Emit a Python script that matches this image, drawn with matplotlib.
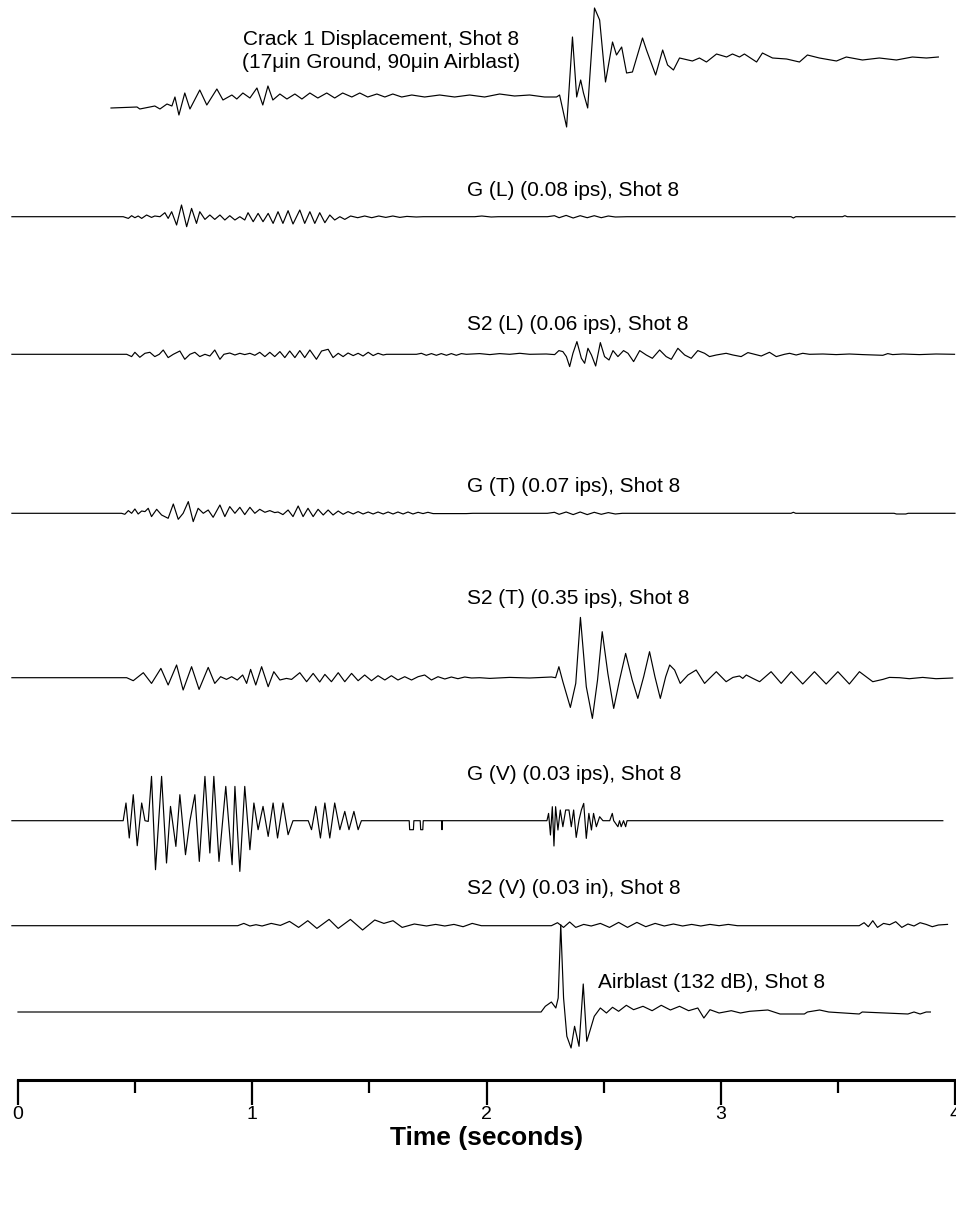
import matplotlib
matplotlib.use("Agg")
import matplotlib.pyplot as plt
from matplotlib.ticker import MultipleLocator

plt.rcParams["font.family"] = ["Liberation Sans", "DejaVu Sans"]

# ---- waveform data: time [s] and amplitude (plot units, up positive) ----
CRACK_T = [0.397, 0.508, 0.520, 0.563, 0.584, 0.606, 0.636, 0.657, 0.670, 0.687,
           0.712, 0.734, 0.776, 0.806, 0.849, 0.875, 0.913, 0.934, 0.960, 0.990,
           1.020, 1.045, 1.067, 1.088, 1.118, 1.148, 1.182, 1.212, 1.246, 1.280,
           1.318, 1.352, 1.386, 1.425, 1.459, 1.493, 1.532, 1.566, 1.600, 1.638,
           1.681, 1.736, 1.800, 1.864, 1.928, 1.992, 2.056, 2.120, 2.184, 2.248,
           2.299, 2.312, 2.342, 2.367, 2.385, 2.402, 2.414, 2.432, 2.461, 2.483,
           2.508, 2.538, 2.555, 2.577, 2.598, 2.623, 2.666, 2.683, 2.722, 2.752,
           2.773, 2.798, 2.824, 2.879, 2.909, 2.939, 2.982, 3.025, 3.050, 3.080,
           3.101, 3.153, 3.178, 3.221, 3.281, 3.336, 3.370, 3.421, 3.494, 3.536,
           3.605, 3.677, 3.750, 3.818, 3.878, 3.929]
CRACK_A = [0, 1, -1, 1, 2, -1, 4, 2, 11, -7,
           15, -1, 18, 3, 19, 8, 13, 9, 15, 10,
           20, 3, 22, 8, 14, 9, 14, 9, 15, 10,
           15, 10, 15, 11, 15, 11, 14, 11, 14, 11,
           13, 11, 13, 11, 13, 11, 14, 12, 13, 11,
           11, 13, -19, 71, 11, 28, 15, 0, 100, 88,
           26, 66, 53, 61, 35, 36, 70, 58, 33, 58,
           43, 38, 50, 47, 50, 46, 54, 51, 54, 51,
           54, 46, 55, 50, 49, 46, 53, 50, 47, 51,
           48, 50, 48, 51, 50, 51]

GL_T = [-0.026, 0.449, 0.471, 0.485, 0.499, 0.513, 0.528, 0.549, 0.570, 0.584,
        0.606, 0.627, 0.641, 0.656, 0.677, 0.698, 0.720, 0.741, 0.762, 0.776,
        0.798, 0.819, 0.840, 0.862, 0.883, 0.904, 0.926, 0.947, 0.968, 0.982,
        1.004, 1.025, 1.046, 1.068, 1.089, 1.110, 1.131, 1.153, 1.174, 1.203,
        1.224, 1.246, 1.267, 1.288, 1.310, 1.331, 1.352, 1.374, 1.395, 1.42,
        1.45, 1.48, 1.51, 1.54, 1.57, 1.60, 1.63, 1.66, 1.70, 1.73,
        1.95, 1.98, 2.02, 2.05, 2.26, 2.29, 2.31, 2.34, 2.37, 2.40,
        2.43, 2.46, 2.49, 2.52, 2.55, 2.60, 3.30, 3.31, 3.32, 3.52,
        3.53, 3.54, 4.00]
GL_A = [0, 0, -1.7, 1, -1, 0.7, -1.7, 1.7, -0.7, 0.7,
        0, 4, -1.7, 5, -8.3, 11.7, -10, 8.3, -6.7, 5,
        -2.7, 1.7, -2.7, 1.7, -3.3, 1, -3.3, 0, -3.3, 4,
        -5, 3.3, -5, 3.3, -6.7, 5, -6.7, 6, -7.3, 6.7,
        -6.7, 5, -6.7, 4, -6, 1.7, -3.3, 0, -2.7, 0.7,
        -1, 0.7, -1, 0.7, -0.7, 0.7, -0.7, 0.3, -0.3, 0,
        0, 0.7, -0.3, 0, 0, 1, -1, 1.3, -1.3, 1,
        -1, 1, -1, 0.7, -0.3, 0, 0, -1.3, 0, 0,
        1, 0, 0]

S2L_T = [-0.026, 0.464, 0.485, 0.499, 0.520, 0.542, 0.563, 0.584, 0.603, 0.620,
         0.641, 0.663, 0.691, 0.712, 0.734, 0.755, 0.776, 0.798, 0.819, 0.840,
         0.862, 0.879, 0.904, 0.926, 0.947, 0.968, 0.990, 1.011, 1.032, 1.054,
         1.075, 1.096, 1.118, 1.139, 1.160, 1.182, 1.203, 1.224, 1.246, 1.274,
         1.296, 1.324, 1.345, 1.367, 1.388, 1.409, 1.431, 1.452, 1.473, 1.495,
         1.516, 1.537, 1.559, 1.573, 1.701, 1.722, 1.743, 1.765, 1.786, 1.807,
         1.829, 1.850, 1.871, 1.893, 1.914, 1.971, 2.014, 2.056, 2.099, 2.142,
         2.184, 2.255, 2.291, 2.309, 2.326, 2.341, 2.355, 2.369, 2.386, 2.405,
         2.419, 2.433, 2.448, 2.466, 2.486, 2.504, 2.523, 2.540, 2.561, 2.585,
         2.604, 2.628, 2.654, 2.682, 2.708, 2.739, 2.767, 2.789, 2.817, 2.846,
         2.874, 2.902, 2.931, 2.952, 2.981, 3.023, 3.052, 3.087, 3.116, 3.144,
         3.173, 3.208, 3.237, 3.272, 3.294, 3.322, 3.350, 3.379, 3.436, 3.493,
         3.549, 3.606, 3.692, 3.713, 3.734, 3.777, 3.848, 3.919, 3.998]
S2L_A = [0, 0, -2.3, 2, -3, 1, 2, -2.3, 0, 4.3,
         -3.3, 0, 3.3, -5, 0, 2, -2.3, 0, -1.7, 4.3,
         -5, 0, 1.3, -0.7, 1, -0.3, 1, -1, 2, -2.3,
         2, -2.3, 2.7, -3.3, 3.3, -3.3, 3.7, -3.3, 4.3, -5,
         3.3, 5, -3.3, 1, -2.3, 1.3, -1.3, 1, -1.7, 2,
         -1.3, 1, -0.7, 0, 0, 1, -1, 0.7, -1, 0.7,
         -1, 0.7, -1, 0.7, 0, 0.7, -0.3, 0.7, 0, 1,
         0, 0.3, -0.3, 3.7, 2.7, -2.3, -12.3, 1, 12.7, -4,
         -9, 6, -0.7, -11.7, 11.7, -2.3, -5.7, 3.7, -2.3, 3.7,
         1, -7.3, 3.7, -0.7, -4, 4.3, -2.3, -5, 6, -0.7,
         -4, 3.7, 1, -2.3, -0.7, 1, -0.7, -2.3, 1.7, 0,
         -1.7, 2, -2.3, 0, 1, -0.7, 1, 0, 0.3, -0.3,
         0.3, -0.3, -1, 0.7, -0.3, 0.3, -0.3, 0.3, 0]

GT_T = [-0.026, 0.442, 0.456, 0.471, 0.485, 0.499, 0.513, 0.528, 0.542, 0.556,
        0.570, 0.592, 0.613, 0.641, 0.663, 0.684, 0.705, 0.727, 0.748, 0.769,
        0.791, 0.812, 0.833, 0.862, 0.883, 0.904, 0.926, 0.947, 0.968, 0.990,
        1.011, 1.032, 1.054, 1.075, 1.096, 1.110, 1.131, 1.153, 1.174, 1.196,
        1.217, 1.238, 1.260, 1.281, 1.303, 1.324, 1.345, 1.367, 1.388, 1.409,
        1.431, 1.452, 1.473, 1.495, 1.516, 1.537, 1.559, 1.580, 1.601, 1.622,
        1.644, 1.665, 1.686, 1.708, 1.729, 1.750, 1.772, 1.814, 1.857, 1.914,
        1.942, 2.26, 2.29, 2.31, 2.34, 2.37, 2.40, 2.43, 2.46, 2.49,
        2.52, 2.55, 2.58, 3.30, 3.31, 3.32, 3.74, 3.75, 3.79, 3.80,
        4.00]
GT_A = [0, 0, -1, 2.7, 0, 4.3, -0.7, 2.3, 1.7, 5,
        -3.3, 4, -1.7, -5, 9.3, -6, 0, 11.7, -8.3, 5,
        0, 3.3, -4, 8.3, -3.3, 6.7, 0, 6, -1.3, 6,
        0, 4, 1, 2.7, 0.7, 1.3, -1.3, 3.3, -3.3, 7.3,
        -3.3, 5, -3.3, 4, -1.7, 3.3, -1.7, 2.3, -1, 1.7,
        -0.7, 1.7, -0.7, 1.3, -0.7, 1.3, -0.7, 1.3, -0.7, 1.3,
        -0.7, 1.3, -0.7, 1, -0.3, 1, -0.3, -0.3, -0.3, -0.3,
        0, 0, 1, -1, 1.3, -1.3, 1.3, -1.3, 1, -1,
        0.7, -0.7, 0, 0, 1, 0, 0, -0.7, -0.7, 0,
        0]

S2T_T = [-0.026, 0.464, 0.492, 0.535, 0.570, 0.610, 0.641, 0.677, 0.705, 0.741,
         0.773, 0.812, 0.840, 0.865, 0.890, 0.912, 0.936, 0.959, 0.976, 0.993,
         1.015, 1.040, 1.068, 1.092, 1.118, 1.146, 1.168, 1.203, 1.232, 1.260,
         1.288, 1.310, 1.338, 1.367, 1.395, 1.424, 1.452, 1.480, 1.509, 1.537,
         1.566, 1.594, 1.622, 1.651, 1.680, 1.708, 1.736, 1.765, 1.793, 1.822,
         1.850, 1.878, 1.907, 1.936, 1.971, 2.014, 2.099, 2.184, 2.277, 2.295,
         2.309, 2.326, 2.358, 2.381, 2.401, 2.426, 2.452, 2.474, 2.494, 2.518,
         2.543, 2.568, 2.594, 2.622, 2.646, 2.671, 2.696, 2.719, 2.742, 2.765,
         2.782, 2.803, 2.827, 2.860, 2.895, 2.931, 2.952, 2.981, 3.023, 3.052,
         3.080, 3.094, 3.109, 3.137, 3.166, 3.215, 3.258, 3.301, 3.350, 3.400,
         3.450, 3.500, 3.549, 3.592, 3.649, 3.692, 3.720, 3.763, 3.805, 3.862,
         3.919, 3.990]
S2T_A = [0, 0, -3, 5, -5.7, 9.3, -7.3, 12.7, -12.3, 11,
         -11.7, 10.3, -5.7, 1, -1.7, 1, -2.3, 2.7, -5.7, 8.3,
         -7.3, 11, -9, 6, -2.3, -0.7, -1.7, 5, -4, 4.3,
         -4.3, 3.3, -4, 5, -4, 4.3, -3, 2.7, -3, 2,
         -2.3, 2, -2.3, 1, -2.3, 1, 2.7, -2.3, 1, -1.3,
         0.7, -1, 0.7, -0.3, 0, -0.7, 0.3, -0.3, 0.7, 0,
         11, -4, -29.7, -5.7, 60.3, -9, -40.7, -2.3, 46, 4.3,
         -30.7, -2.3, 24.3, -2.3, -20.7, 1, 26, 1, -20.7, 1,
         12.7, 7.7, -5.7, 2.7, 7.7, -5.7, -0.7, 6, -4, 0.3,
         1.7, -0.7, 2.7, -0.7, -4, 6, -5.7, 6, -6.3, 6,
         -6.3, 6, -6.3, 6, -4, -1.7, 0.3, 0, -1, 0.3,
         -1, -0.3]

GV_T = [-0.026, 0.449, 0.461, 0.475, 0.492, 0.509, 0.528, 0.542, 0.556, 0.570,
        0.587, 0.613, 0.634, 0.651, 0.674, 0.691, 0.715, 0.734, 0.755, 0.774,
        0.798, 0.819, 0.836, 0.858, 0.887, 0.914, 0.926, 0.947, 0.968, 0.990,
        1.007, 1.025, 1.046, 1.068, 1.089, 1.108, 1.131, 1.153, 1.174, 1.239,
        1.253, 1.271, 1.291, 1.310, 1.331, 1.352, 1.374, 1.395, 1.413, 1.434,
        1.452, 1.466, 1.670, 1.672, 1.688, 1.690, 1.717, 1.719, 1.728, 1.730,
        1.808, 1.810, 1.812, 2.258, 2.265, 2.273, 2.281, 2.288, 2.295, 2.305,
        2.315, 2.326, 2.338, 2.352, 2.362, 2.372, 2.383, 2.395, 2.405, 2.415,
        2.426, 2.437, 2.448, 2.457, 2.469, 2.483, 2.497, 2.526, 2.537, 2.543,
        2.561, 2.568, 2.575, 2.585, 2.594, 2.600, 3.948]
GV_A = [0, 0, 17.7, -17.3, 26, -25, 17.7, 0, -0.7, 44.3,
        -49, 44.3, -42.3, 14.3, -25.7, 26, -34, 0, 26, -40.7,
        44.3, -32.3, 44.3, -40.7, 34.3, -44, 34.3, -50.7, 34.3, -29,
        17.7, -9, 14.3, -15.7, 17.7, -17.3, 17.7, -14, 0, 0,
        -9, 14.3, -17.3, 17.7, -17.3, 17.7, -9, 9.3, -9, 9.3,
        -9, 0, 0, -9, -9, 0, 0, -9, -9, 0,
        0, -9, 0, 0, 7.3, -14.3, 14, -25.3, 14, -9.3,
        10.7, -6, 10.7, 10.7, -6, 10.7, -16.7, 0.7, 10.7, 17.3,
        -17.7, 7.3, -9.3, 7.3, -6, 4, 0, 0, 7.3, 0,
        -6, 0, -6, 0, -6, 0, 0]

S2V_T = [-0.026, 0.938, 0.964, 0.990, 1.016, 1.042, 1.081, 1.120, 1.159, 1.198,
         1.237, 1.276, 1.328, 1.367, 1.419, 1.471, 1.523, 1.562, 1.601, 1.640,
         1.692, 1.744, 1.783, 1.822, 1.861, 1.900, 1.939, 1.978, 2.277, 2.303,
         2.329, 2.355, 2.381, 2.415, 2.447, 2.486, 2.525, 2.564, 2.602, 2.642,
         2.680, 2.720, 2.759, 2.798, 2.837, 2.876, 2.915, 2.954, 2.993, 3.032,
         3.071, 3.591, 3.612, 3.630, 3.649, 3.669, 3.695, 3.721, 3.747, 3.773,
         3.799, 3.825, 3.851, 3.877, 3.903, 3.929, 3.968]
S2V_A = [0, 0, 2.3, -0.3, 1, -0.3, 2.3, 0.3, 4.3, -1.7,
         5, -2.7, 6.3, -2.7, 6.3, -4.3, 5.7, 2.3, 5, -1.7,
         1.7, -0.3, 1.3, -0.3, 1.3, -1, 2.3, 0, 0, 3,
         -1.7, 3.7, -1.7, 1.3, -0.3, 2.3, -1.7, 3.3, -1.7, 3.3,
         -1, 2.3, -0.3, 1.7, -0.3, 1.3, -0.3, 1.3, 0, 1.3,
         0, 0, 3, -1, 5, -1.7, 2.3, 1, 4, -1.7,
         1.7, -0.3, 3, 1.3, -1, 0.7, 1.3]

AIR_T = [0.0, 2.233, 2.251, 2.277, 2.296, 2.306, 2.317, 2.329, 2.343, 2.361,
         2.376, 2.395, 2.413, 2.428, 2.441, 2.460, 2.486, 2.512, 2.538, 2.564,
         2.597, 2.628, 2.668, 2.707, 2.746, 2.785, 2.824, 2.863, 2.902, 2.928,
         2.954, 2.993, 3.045, 3.084, 3.123, 3.201, 3.253, 3.357, 3.370, 3.422,
         3.461, 3.591, 3.604, 3.799, 3.825, 3.851, 3.877, 3.895]
AIR_A = [0, 0, 5.7, 10, 4, 14, 87.3, 14, -24.3, -36,
         -14.3, -34.3, 28, -29.3, -19.3, -4.3, 4, -1, 4.7, 0.7,
         6.7, 2.3, 5.7, 1.3, 6.7, 2, 5.7, 1.3, 4, -6,
         2.3, -1, 1.3, -1, 0.7, 2, -2, -2, 0, 2,
         0, -2, 0, -2, 0, -2, 0, 0]

LABELS = ["G (L) (0.08 ips), Shot 8", "S2 (L) (0.06 ips), Shot 8",
          "G (T) (0.07 ips), Shot 8", "S2 (T) (0.35 ips), Shot 8",
          "G (V) (0.03 ips), Shot 8", "S2 (V) (0.03 in), Shot 8"]
CRACK_LABEL = "Crack 1 Displacement, Shot 8\n(17\u03bcin Ground, 90\u03bcin Airblast)"
AIR_LABEL = "Airblast (132 dB), Shot 8"

# ---- layout (pixel units measured down from the top of the figure) ----
W, H = 956, 1205
AX_LEFT, AX_RIGHT, AX_BOTTOM = 18, 955, 1080
traces = [(CRACK_T, CRACK_A, 108), (GL_T, GL_A, 216.7), (S2L_T, S2L_A, 354.3),
          (GT_T, GT_A, 513.3), (S2T_T, S2T_A, 677.7), (GV_T, GV_A, 820.7),
          (S2V_T, S2V_A, 925.7), (AIR_T, AIR_A, 1012)]
label_y = [190, 325, 486, 598, 775, 888]

fig = plt.figure(figsize=(W / 100, H / 100), dpi=100)
ax = fig.add_axes([AX_LEFT / W, 1 - AX_BOTTOM / H,
                   (AX_RIGHT - AX_LEFT) / W, AX_BOTTOM / H])
ax.set_xlim(0, 4)
ax.set_ylim(-AX_BOTTOM, 0)

for t, a, base in traces:
    ax.plot(t, [-base + v for v in a], color="black", lw=0.85, clip_on=False)

ax.text(1.551, -51, CRACK_LABEL, ha="center", va="center", fontsize=15,
        linespacing=1.25)
for lab, y in zip(LABELS, label_y):
    ax.text(1.916, -y, lab, ha="left", va="center", fontsize=15)
ax.text(2.478, -982, AIR_LABEL, ha="left", va="center", fontsize=15)

for s in ["left", "right", "top"]:
    ax.spines[s].set_visible(False)
ax.spines["bottom"].set_linewidth(2.2)
ax.set_yticks([])
ax.xaxis.set_major_locator(MultipleLocator(1))
ax.xaxis.set_minor_locator(MultipleLocator(0.5))
ax.tick_params(axis="x", which="major", length=18, width=1.6, labelsize=14, pad=1)
ax.tick_params(axis="x", which="minor", length=9, width=1.6)
ax.set_xlabel("Time (seconds)", fontsize=19, fontweight="bold", labelpad=2)

fig.savefig("out.png", dpi=100)
